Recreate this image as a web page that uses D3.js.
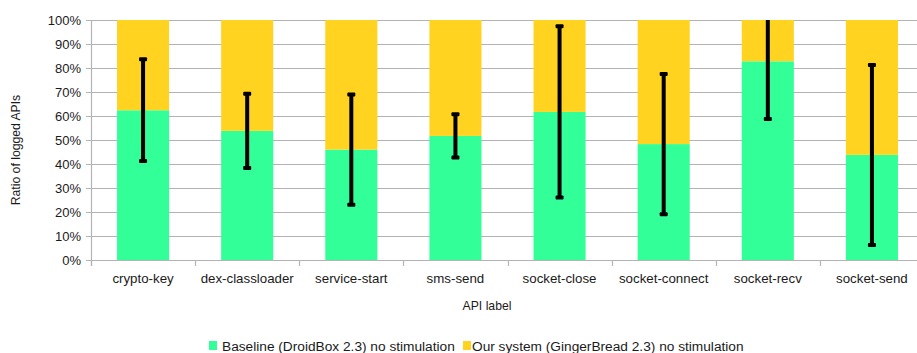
<!DOCTYPE html>
<html>
<head>
<meta charset="utf-8">
<script src="https://cdn.jsdelivr.net/npm/d3@7"></script>
<style>
  html, body { margin: 0; padding: 0; background: #fff; }
  svg { display: block; font-family: "Liberation Sans", Arial, sans-serif; }
</style>
</head>
<body>
<svg id="chart" width="917" height="353"></svg>
<script>
// API categories and measurements (percent of logged APIs)
const categories = ["crypto-key", "dex-classloader", "service-start", "sms-send",
                    "socket-close", "socket-connect", "socket-recv", "socket-send"];
const baseline = [62.4, 53.8, 46.0, 51.7, 61.7, 48.3, 82.8, 43.8];
const errorRange = [21.2, 15.5, 23.0, 9.0, 35.7, 29.2, 24.0, 37.5];
const yTicks = [0, 10, 20, 30, 40, 50, 60, 70, 80, 90, 100];
const seriesNames = ["Baseline (DroidBox 2.3) no stimulation", "Our system (GingerBread 2.3) no stimulation"];
const seriesColors = ["#33ff99", "#ffd320"];

const rows = categories.map((c, i) => ({
  cat: c, base: baseline[i], ours: 100 - baseline[i], err: errorRange[i]
}));

const svg = d3.select("#chart");
const plotLeft = 91, plotRight = 924, plotTop = 20, plotBottom = 260;

const x = d3.scaleBand().domain(categories).range([plotLeft, plotRight])
  .paddingInner(0.5).paddingOuter(0.25);
const y = d3.scaleLinear().domain([0, 100]).range([plotBottom, plotTop]);

const gridColor = "#b3b3b3";
const textColor = "#1a1a1a";

// horizontal grid lines
svg.append("g").selectAll("line").data(yTicks).join("line")
  .attr("x1", plotLeft - 5).attr("x2", 917)
  .attr("y1", d => Math.round(y(d)) + 0.5).attr("y2", d => Math.round(y(d)) + 0.5)
  .attr("stroke", gridColor).attr("stroke-width", 1.2);

// y axis line
svg.append("line").attr("x1", plotLeft + 0.5).attr("x2", plotLeft + 0.5)
  .attr("y1", plotTop).attr("y2", plotBottom + 6)
  .attr("stroke", gridColor).attr("stroke-width", 1.2);

// category separator ticks
const step = x.step();
const bounds = d3.range(categories.length + 1).map(i => plotLeft + i * step);
svg.append("g").selectAll("line").data(bounds).join("line")
  .attr("x1", d => Math.round(d) + 0.5).attr("x2", d => Math.round(d) + 0.5)
  .attr("y1", plotBottom).attr("y2", plotBottom + 6)
  .attr("stroke", gridColor).attr("stroke-width", 1.2);

// y tick labels via d3 axis
const yAxis = svg.append("g").attr("transform", `translate(${plotLeft},0)`)
  .call(d3.axisLeft(y).tickValues(yTicks).tickFormat(d => d + "%").tickSize(0).tickPadding(10));
yAxis.select(".domain").remove();
yAxis.selectAll("text").attr("fill", textColor).style("font-size", "13px")
  .style("font-family", '"Liberation Sans", Arial, sans-serif');

// stacked bars
const stack = d3.stack().keys(["base", "ours"])(rows);
svg.append("g").selectAll("g").data(stack).join("g")
  .attr("fill", (d, i) => seriesColors[i])
  .selectAll("rect").data(d => d).join("rect")
  .attr("x", d => x(d.data.cat))
  .attr("width", x.bandwidth())
  .attr("y", d => y(d[1]))
  .attr("height", d => y(d[0]) - y(d[1]));

// error bars around the baseline value, clipped to the plot area
svg.append("clipPath").attr("id", "plotClip").append("rect")
  .attr("x", plotLeft).attr("y", plotTop).attr("width", plotRight - plotLeft).attr("height", plotBottom - plotTop);
const eb = svg.append("g").attr("clip-path", "url(#plotClip)")
  .selectAll("g").data(rows).join("g")
  .attr("transform", d => `translate(${x(d.cat) + x.bandwidth() / 2},0)`);
eb.append("line")
  .attr("y1", d => y(d.base + d.err)).attr("y2", d => y(d.base - d.err))
  .attr("stroke", "#000").attr("stroke-width", 4);
eb.append("rect")
  .attr("x", -4).attr("width", 8).attr("height", 4).attr("rx", 1)
  .attr("y", d => y(d.base + d.err) - 2).attr("fill", "#000");
eb.append("rect")
  .attr("x", -4).attr("width", 8).attr("height", 4).attr("rx", 1)
  .attr("y", d => y(d.base - d.err) - 2).attr("fill", "#000");

// category labels
svg.append("g").selectAll("text").data(categories).join("text")
  .attr("x", d => x(d) + x.bandwidth() / 2).attr("y", 283)
  .attr("text-anchor", "middle").attr("fill", textColor)
  .style("font-size", "13.3px").text(d => d);

// axis titles
svg.append("text").attr("x", 487).attr("y", 310).attr("text-anchor", "middle")
  .attr("fill", textColor).style("font-size", "12.2px").text("API label");
svg.append("text").attr("transform", "translate(20,150) rotate(-90)")
  .attr("text-anchor", "middle").attr("fill", textColor)
  .style("font-size", "12.2px").text("Ratio of logged APIs");

// legend
const legendSwatchX = [209, 463];
const legendTextX = [222, 472];
const lg = svg.append("g").selectAll("g").data(seriesNames).join("g");
lg.append("rect").attr("x", (d, i) => legendSwatchX[i]).attr("y", 341)
  .attr("width", 8).attr("height", 9)
  .attr("fill", (d, i) => seriesColors[i]);
lg.append("text").attr("x", (d, i) => legendTextX[i]).attr("y", 351).attr("fill", textColor)
  .style("font-size", "13.7px").text(d => d);
</script>
</body>
</html>
